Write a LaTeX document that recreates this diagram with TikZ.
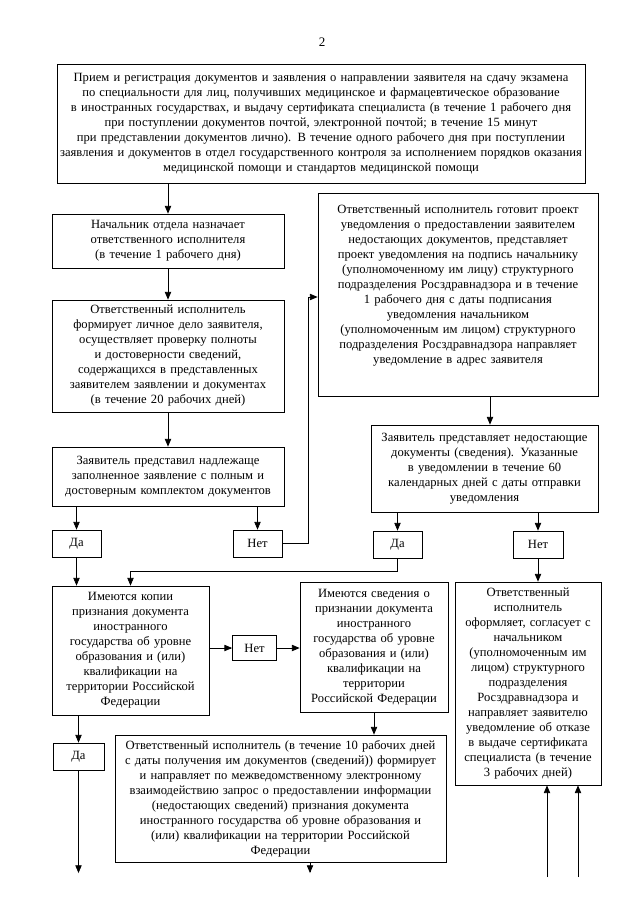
\documentclass[tikz,border=0pt]{standalone}
\usepackage{fontspec}
\setmainfont{Liberation Serif}
\usetikzlibrary{arrows}

\begin{document}
\begin{tikzpicture}[x=1pt,y=-1pt]
\tikzset{blk/.style={draw,line width=0.8pt,align=center,inner sep=2pt,font=\fontsize{12.6}{15}\selectfont}}
\tikzset{yn/.style={blk,minimum height=27}}
\tikzset{lnk/.style={->,>=triangle 45,line width=0.75pt}}

\useasboundingbox (0,0) rectangle (640,905);

\node (pnum) at (322,42) {\fontsize{13}{15}\selectfont 2};

\node[blk,text width=524,minimum height=119] (top) at (321,123.5) {Прием и регистрация документов и заявления о направлении заявителя на сдачу экзамена\\по специальности для лиц, получивших медицинское и фармацевтическое образование\\в иностранных государствах, и выдачу сертификата специалиста (в течение 1 рабочего дня\\при поступлении документов почтой, электронной почтой; в течение 15 минут\\при представлении документов лично). В течение одного рабочего дня при поступлении\\заявления и документов в отдел государственного контроля за исполнением порядков оказания\\медицинской помощи и стандартов медицинской помощи};

\node[blk,text width=228,minimum height=54] (n1) at (168,241) {Начальник отдела назначает\\ответственного исполнителя\\(в течение 1 рабочего дня)};
\node[blk,text width=228,minimum height=112] (n2) at (168,356) {Ответственный исполнитель\\формирует личное дело заявителя,\\осуществляет проверку полноты\\и достоверности сведений,\\содержащихся в представленных\\заявителем заявлении и документах\\(в течение 20 рабочих дней)};
\node[blk,text width=228,minimum height=59] (n3) at (168,476.5) {Заявитель представил надлежаще\\заполненное заявление с полным и\\достоверным комплектом документов};
\node[yn,text width=45] (da1) at (76.5,543.5) {Да};
\node[yn,text width=45] (net1) at (257.5,543.5) {Нет};

\node[blk,text width=276,minimum height=203] (r1) at (458,294.5) {Ответственный исполнитель готовит проект\\уведомления о предоставлении заявителем\\недостающих документов, представляет\\проект уведомления на подпись начальнику\\(уполномоченному им лицу) структурного\\подразделения Росздравнадзора и в течение\\1 рабочего дня с даты подписания\\уведомления начальником\\(уполномоченным им лицом) структурного\\подразделения Росздравнадзора направляет\\уведомление в адрес заявителя\\[6pt]\mbox{}};
\node[blk,text width=223,minimum height=87] (r2) at (484.5,468.5) {Заявитель представляет недостающие\\документы (сведения). Указанные\\в уведомлении в течение 60\\календарных дней с даты отправки\\уведомления};
\node[yn,text width=45] (da2) at (397.5,544.5) {Да};
\node[yn,text width=46] (net2) at (538,544.5) {Нет};

\node[blk,text width=153,minimum height=129] (kop) at (130.5,650.5) {Имеются копии\\признания документа\\иностранного\\государства об уровне\\образования и (или)\\квалификации на\\территории Российской\\Федерации};
\node[yn,text width=40,minimum height=25] (net3) at (254.5,648) {Нет};
\node[blk,text width=144,minimum height=130] (sved) at (374,647) {Имеются сведения о\\признании документа\\иностранного\\государства об уровне\\образования и (или)\\квалификации на\\территории\\Российской Федерации};
\node[blk,text width=142,minimum height=203] (otk) at (528,683.5) {Ответственный\\исполнитель\\оформляет, согласует с\\начальником\\(уполномоченным им\\лицом) структурного\\подразделения\\Росздравнадзора и\\направляет заявителю\\уведомление об отказе\\в выдаче сертификата\\специалиста (в течение\\3 рабочих дней)};
\node[yn,text width=47] (da3) at (78.5,756.5) {Да};
\node[blk,text width=327,minimum height=127] (mid) at (280.5,798.5) {Ответственный исполнитель (в течение 10 рабочих дней\\с даты получения им документов (сведений)) формирует\\и направляет по межведомственному электронному\\взаимодействию запрос о предоставлении информации\\(недостающих сведений) признания документа\\иностранного государства об уровне образования и\\(или) квалификации на территории Российской\\Федерации};

\coordinate (e1) at (78.5,873);
\coordinate (e2) at (310,873);
\coordinate (u1) at (547,877);
\coordinate (u2) at (578,877);

\draw[lnk] (top.south -| n1) -- (n1.north);
\draw[lnk] (n1) -- (n2);
\draw[lnk] (n2) -- (n3);
\draw[lnk] (n3.south -| da1) -- (da1.north);
\draw[lnk] (n3.south -| net1) -- (net1.north);
\draw[lnk] (net1.east) -- ++(26,0) |- ([yshift=-2.5pt]r1.west);
\draw[lnk] (r1.south -| 490,0) -- (r2.north -| 490,0);
\draw[lnk] (r2.south -| da2) -- (da2.north);
\draw[lnk] (r2.south -| net2) -- (net2.north);
\draw[lnk] (da2.south) |- ([yshift=14pt]kop.north) -- (kop.north);
\draw[lnk] (da1.south) -- (da1.south |- kop.north);
\draw[lnk] (net2.south) -- (net2.south |- otk.north);
\draw[lnk] (kop.east |- net3) -- (net3.west);
\draw[lnk] (net3.east) -- (net3.east -| sved.west);
\draw[lnk] (sved.south) -- (sved.south |- mid.north);
\draw[lnk] (kop.south -| da3) -- (da3.north);
\draw[lnk] (da3.south) -- (e1);
\draw[lnk] (mid.south -| e2) -- (e2);
\draw[lnk] (u1) -- (u1 |- otk.south);
\draw[lnk] (u2) -- (u2 |- otk.south);

\end{tikzpicture}
\end{document}
